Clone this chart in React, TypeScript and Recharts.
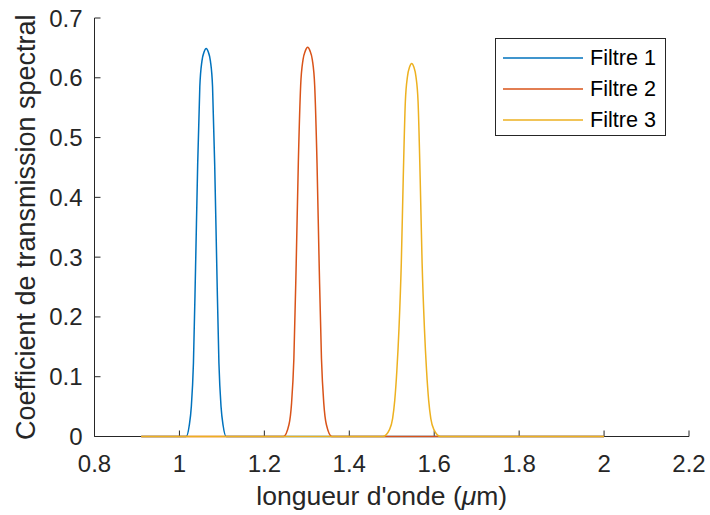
import React from "react";
import { LineChart, Line, XAxis, YAxis } from "recharts";

interface Point {
  x: number;
  y: number;
}

// wavelengths (um) and transmission
const filtre1X = [0.91, 1.016, 1.023, 1.028, 1.033, 1.038, 1.043, 1.048, 1.053, 1.058, 1.063, 1.068, 1.073, 1.078, 1.083, 1.088, 1.093, 1.098, 1.103, 1.11, 2.0];
const filtre1Y = [0, 0, 0.018, 0.05, 0.123, 0.283, 0.456, 0.585, 0.628, 0.643, 0.649, 0.643, 0.628, 0.585, 0.456, 0.283, 0.123, 0.05, 0.018, 0, 0];

const filtre2X = [0.91, 1.245, 1.258, 1.264, 1.2695, 1.275, 1.28, 1.2855, 1.291, 1.2965, 1.302, 1.3075, 1.313, 1.3185, 1.324, 1.329, 1.3345, 1.34, 1.346, 1.359, 2.0];
const filtre2Y = [0, 0, 0.02, 0.055, 0.13, 0.29, 0.458, 0.587, 0.63, 0.645, 0.651, 0.645, 0.63, 0.587, 0.458, 0.29, 0.13, 0.055, 0.02, 0, 0];

const filtre3X = [0.91, 1.479, 1.495, 1.502, 1.507, 1.512, 1.517, 1.5225, 1.527, 1.532, 1.537, 1.542, 1.547, 1.552, 1.557, 1.562, 1.567, 1.5715, 1.577, 1.582, 1.587, 1.592, 1.599, 1.615, 2.0];
const filtre3Y = [0, 0, 0.012, 0.03, 0.06, 0.11, 0.18, 0.29, 0.43, 0.56, 0.602, 0.618, 0.624, 0.618, 0.602, 0.56, 0.43, 0.29, 0.18, 0.11, 0.06, 0.03, 0.012, 0, 0];

const xTicks = [0.8, 1, 1.2, 1.4, 1.6, 1.8, 2, 2.2];
const yTicks = [0, 0.1, 0.2, 0.3, 0.4, 0.5, 0.6, 0.7];

const seriesNames = ["Filtre 1", "Filtre 2", "Filtre 3"];
const seriesColors = ["#0072BD", "#D95319", "#EDB120"];

const toPoints = (xs: number[], ys: number[]): Point[] => xs.map((x, i) => ({ x, y: ys[i] }));

const seriesData = [
  toPoints(filtre1X, filtre1Y),
  toPoints(filtre2X, filtre2Y),
  toPoints(filtre3X, filtre3Y),
];

const FONT = "'Liberation Sans', Arial, sans-serif";
const AXIS = "#262626";
const tickStyle = { fontSize: 24, fill: AXIS, fontFamily: FONT };

const App: React.FC = () => {
  return (
    <div style={{ position: "absolute", left: 0, top: 0, width: 710, height: 515, background: "#fff" }}>
      <LineChart width={710} height={515} margin={{ top: 18, right: 21, bottom: 0, left: 0 }}>
        <XAxis
          xAxisId="bottom"
          dataKey="x"
          type="number"
          domain={[0.8, 2.2]}
          ticks={xTicks}
          height={78.5}
          tickSize={-6}
          tickMargin={24}
          stroke={AXIS}
          tick={tickStyle}
          allowDataOverflow
          label={(props: any) => {
            const vb = props.viewBox;
            return (
              <text x={vb.x + vb.width / 2 - 10} y={505} textAnchor="middle" fontSize={26.5} fill={AXIS} fontFamily={FONT}>
                longueur d'onde (<tspan fontStyle="italic">μ</tspan>m)
              </text>
            );
          }}
        />
        <XAxis
          xAxisId="top"
          orientation="top"
          dataKey="x"
          type="number"
          domain={[0.8, 2.2]}
          ticks={xTicks}
          height={0}
          tickSize={-6}
          tick={false}
          stroke={AXIS}
          allowDataOverflow
        />
        <YAxis
          yAxisId="left"
          type="number"
          domain={[0, 0.7]}
          ticks={yTicks}
          width={94.5}
          tickSize={-6}
          tickMargin={18}
          stroke={AXIS}
          tick={tickStyle}
          label={(props: any) => {
            const vb = props.viewBox;
            const cy = vb.y + vb.height / 2;
            return (
              <text x={35} y={cy} transform={`rotate(-90 35 ${cy})`} textAnchor="middle" fontSize={27} fill={AXIS} fontFamily={FONT}>
                Coefficient de transmission spectral
              </text>
            );
          }}
        />
        <YAxis
          yAxisId="right"
          orientation="right"
          type="number"
          domain={[0, 0.7]}
          ticks={yTicks}
          width={0}
          tickSize={-6}
          tick={false}
          stroke={AXIS}
        />
        {seriesData.map((d, i) => (
          <Line
            key={seriesNames[i]}
            xAxisId="bottom"
            yAxisId="left"
            data={d}
            dataKey="y"
            name={seriesNames[i]}
            type="monotone"
            stroke={seriesColors[i]}
            strokeWidth={1.5}
            dot={false}
            activeDot={false}
            isAnimationActive={false}
            {...({ zIndex: 600 } as any)}
          />
        ))}
      </LineChart>
      <div
        style={{
          position: "absolute",
          left: 495,
          top: 38,
          width: 171,
          height: 98,
          border: `1px solid ${AXIS}`,
          background: "#fff",
          fontFamily: FONT,
          fontSize: 21.6,
          color: "#000",
          boxSizing: "border-box",
        }}
      >
        {seriesNames.map((name, i) => (
          <div key={name} style={{ position: "absolute", left: 0, top: 3 + i * 31, height: 31, display: "flex", alignItems: "center" }}>
            <svg width={80} height={4} style={{ marginLeft: 7, display: "block" }}>
              <line x1={0} y1={2} x2={80} y2={2} stroke={seriesColors[i]} strokeWidth={1.5} />
            </svg>
            <span style={{ marginLeft: 7, lineHeight: "31px" }}>{name}</span>
          </div>
        ))}
      </div>
    </div>
  );
};

export default App;
